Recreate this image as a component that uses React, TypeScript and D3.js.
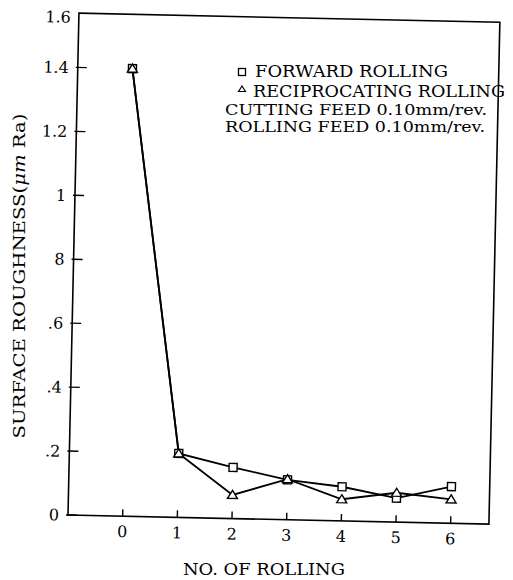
import React, { useEffect, useRef } from "react";
import * as d3 from "d3";

// number of rolling passes and measured roughness (um Ra)
const rollings = [0, 1, 2, 3, 4, 5, 6];
const forwardRoughness = [1.4, 0.2, 0.16, 0.125, 0.107, 0.075, 0.115];
const reciprocatingRoughness = [1.4, 0.2, 0.074, 0.127, 0.068, 0.092, 0.075];

const yTickValues = [0, 0.2, 0.4, 0.6, 0.8, 1.0, 1.2, 1.4];
const yTickLabels = ["0", ".2", ".4", ".6", "8", "1", "1.2", "1.4"];
const yTopLabel = "1.6";

const legendSeries = ["FORWARD ROLLING", "RECIPROCATING ROLLING"];
const conditionLines = ["CUTTING FEED 0.10mm/rev.", "ROLLING FEED 0.10mm/rev."];

const xTitle = "NO. OF ROLLING";

const FONT = "'DejaVu Serif', 'Liberation Serif', serif";

const App = () => {
  const svgRef = useRef<SVGSVGElement>(null);
  const width = 513;
  const height = 580;

  useEffect(() => {
    const svg = d3.select(svgRef.current);
    svg.selectAll("*").remove();

    const margin = { top: 13, right: 24, bottom: 65, left: 68 };
    const x0 = margin.left;
    const x1 = width - margin.right;
    const y0 = height - margin.bottom;
    const y1 = margin.top;

    const xScale = d3.scaleLinear().domain([-1, 6.7]).range([x0, x1]);
    const yScale = d3.scaleLinear().domain([0, 1.57]).range([y0, y1]);

    // the scanned figure is tilted a little clockwise
    const g = svg
      .append("g")
      .attr("transform", `rotate(1.25, ${x0}, ${y0})`);

    g.append("rect")
      .attr("x", x0)
      .attr("y", y1)
      .attr("width", x1 - x0)
      .attr("height", y0 - y1)
      .attr("fill", "none")
      .attr("stroke", "#000")
      .attr("stroke-width", 1.6);

    // x ticks (inside)
    const xt = g
      .append("g")
      .selectAll("g")
      .data(rollings)
      .enter()
      .append("g");
    xt.append("line")
      .attr("x1", (d) => xScale(d))
      .attr("x2", (d) => xScale(d))
      .attr("y1", y0)
      .attr("y2", y0 - 7)
      .attr("stroke", "#000")
      .attr("stroke-width", 1.4);
    xt.append("text")
      .attr("x", (d) => xScale(d))
      .attr("y", y0 + 21)
      .attr("text-anchor", "middle")
      .attr("font-family", FONT)
      .attr("font-size", 16)
      .text((d) => String(d));

    // y ticks (inside)
    const yt = g
      .append("g")
      .selectAll("g")
      .data(yTickValues)
      .enter()
      .append("g");
    yt.append("line")
      .attr("x1", x0 - 2)
      .attr("x2", x0 + 9)
      .attr("y1", (d) => yScale(d))
      .attr("y2", (d) => yScale(d))
      .attr("stroke", "#000")
      .attr("stroke-width", 1.4);
    yt.append("text")
      .attr("x", x0 - 9)
      .attr("y", (d) => yScale(d))
      .attr("dy", "0.36em")
      .attr("text-anchor", "end")
      .attr("font-family", FONT)
      .attr("font-size", 16)
      .text((d, i) => yTickLabels[i]);
    g.append("text")
      .attr("x", x0 - 8)
      .attr("y", y1 + 4)
      .attr("dy", "0.36em")
      .attr("text-anchor", "end")
      .attr("font-family", FONT)
      .attr("font-size", 16)
      .text(yTopLabel);

    // series lines
    const line = d3
      .line<number>()
      .x((d, i) => xScale(rollings[i]))
      .y((d) => yScale(d));

    [forwardRoughness, reciprocatingRoughness].forEach((values) => {
      g.append("path")
        .datum(values)
        .attr("d", line)
        .attr("fill", "none")
        .attr("stroke", "#000")
        .attr("stroke-width", 1.8);
    });

    // markers
    g.append("g")
      .selectAll("rect")
      .data(forwardRoughness)
      .enter()
      .append("rect")
      .attr("x", (d, i) => xScale(rollings[i]) - 4)
      .attr("y", (d) => yScale(d) - 4)
      .attr("width", 8)
      .attr("height", 8)
      .attr("fill", "#fff")
      .attr("stroke", "#000")
      .attr("stroke-width", 1.4);

    const tri = "M0,-4.5L5,3.5L-5,3.5Z";
    g.append("g")
      .selectAll("path")
      .data(reciprocatingRoughness)
      .enter()
      .append("path")
      .attr("d", tri)
      .attr(
        "transform",
        (d, i) => `translate(${xScale(rollings[i])},${yScale(d)})`
      )
      .attr("fill", "#fff")
      .attr("stroke", "#000")
      .attr("stroke-width", 1.4);

    // legend
    const leg = svg.append("g").attr("font-family", FONT).attr("font-size", 16);
    leg
      .append("rect")
      .attr("x", 238.5)
      .attr("y", 68.5)
      .attr("width", 7)
      .attr("height", 7)
      .attr("fill", "#fff")
      .attr("stroke", "#000")
      .attr("stroke-width", 1.3);
    leg
      .append("path")
      .attr("d", "M0,-3L3.5,2.5L-3.5,2.5Z")
      .attr("transform", "translate(242,89)")
      .attr("fill", "#fff")
      .attr("stroke", "#000")
      .attr("stroke-width", 1.2);
    leg
      .append("text")
      .attr("x", 255)
      .attr("y", 77)
      .attr("textLength", 193)
      .attr("lengthAdjust", "spacingAndGlyphs")
      .text(legendSeries[0]);
    leg
      .append("text")
      .attr("x", 253)
      .attr("y", 97)
      .attr("textLength", 252)
      .attr("lengthAdjust", "spacingAndGlyphs")
      .text(legendSeries[1]);
    leg
      .append("text")
      .attr("x", 225)
      .attr("y", 115)
      .attr("font-size", 14.5)
      .attr("textLength", 262)
      .attr("lengthAdjust", "spacingAndGlyphs")
      .text(conditionLines[0]);
    leg
      .append("text")
      .attr("x", 225)
      .attr("y", 132)
      .attr("font-size", 14.5)
      .attr("textLength", 260)
      .attr("lengthAdjust", "spacingAndGlyphs")
      .text(conditionLines[1]);

    // axis titles
    svg
      .append("text")
      .attr("x", 264)
      .attr("y", 575)
      .attr("text-anchor", "middle")
      .attr("font-family", FONT)
      .attr("font-size", 16)
      .attr("textLength", 162)
      .attr("lengthAdjust", "spacingAndGlyphs")
      .text(xTitle);

    const yTitle = svg
      .append("text")
      .attr("transform", "translate(25,276) rotate(-90)")
      .attr("text-anchor", "middle")
      .attr("font-family", FONT)
      .attr("font-size", 16)
      .attr("textLength", 325)
      .attr("lengthAdjust", "spacingAndGlyphs");
    yTitle.append("tspan").text("SURFACE ROUGHNESS(");
    yTitle.append("tspan").attr("font-style", "italic").text("\u03bcm");
    yTitle.append("tspan").text(" Ra)");
  }, []);

  return (
    <svg
      ref={svgRef}
      width={width}
      height={height}
      style={{ position: "absolute", left: 0, top: 0, background: "#fff" }}
    />
  );
};

export default App;
